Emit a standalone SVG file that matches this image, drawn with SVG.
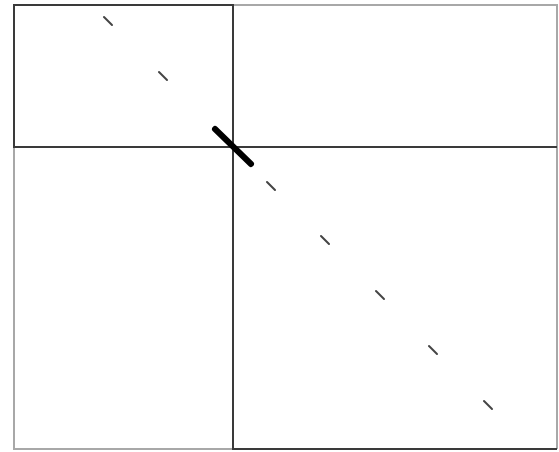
<svg xmlns="http://www.w3.org/2000/svg" width="559" height="452" viewBox="0 0 559 452">
<style>
.dark{fill:none;stroke:#3a3a3a;stroke-width:2}
.light{fill:none;stroke:#a8a8a8;stroke-width:2}
.tick{stroke:#444;stroke-width:2;stroke-linecap:round}
.thick{stroke:#000;stroke-width:6;stroke-linecap:round}
</style>
<rect width="559" height="452" fill="#fff"/>
<g id="outer">
<path class="light" d="M233,5 H557 V449 M14,147 V449 H233"/>
</g>
<g id="block-top-left">
<rect class="dark" x="14" y="5" width="219" height="142"/>
</g>
<g id="block-bottom-right">
<path class="dark" d="M233,147 H557 M233,147 V449 H557"/>
</g>
<g id="connectors">
<line class="tick" x1="104" y1="17" x2="112" y2="25"/>
<line class="tick" x1="159" y1="72" x2="167" y2="80"/>
<line class="thick" x1="215" y1="129" x2="251" y2="164"/>
<line class="tick" x1="267" y1="182" x2="275" y2="190"/>
<line class="tick" x1="321" y1="236" x2="329" y2="244"/>
<line class="tick" x1="376" y1="291" x2="384" y2="299"/>
<line class="tick" x1="429" y1="346" x2="437" y2="354"/>
<line class="tick" x1="484" y1="401" x2="492" y2="409"/>
</g>
</svg>
